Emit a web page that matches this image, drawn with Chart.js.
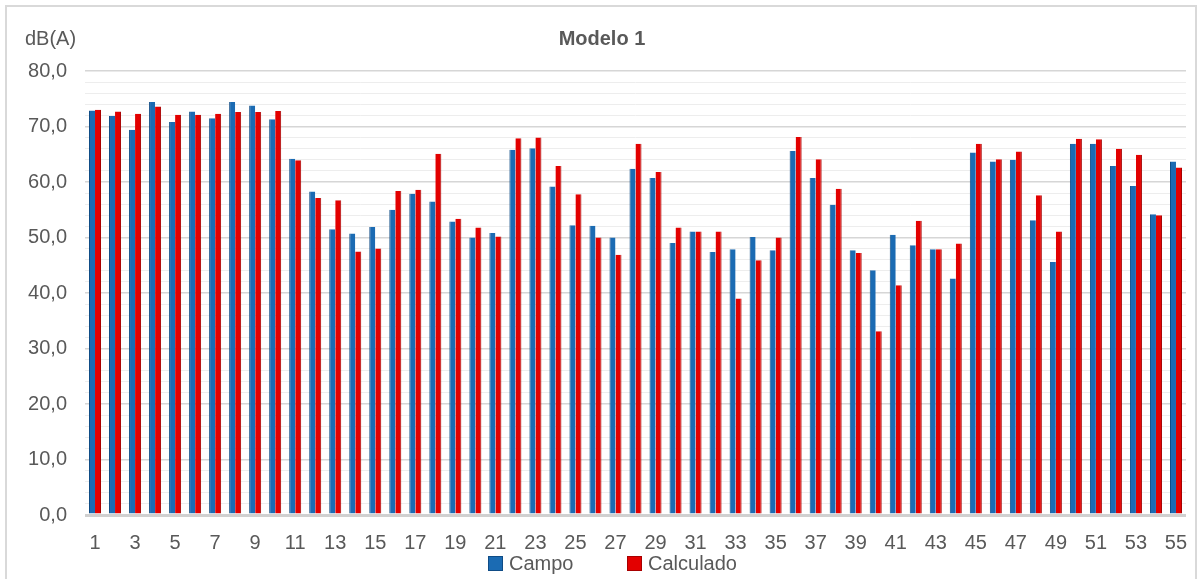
<!DOCTYPE html>
<html>
<head>
<meta charset="utf-8">
<script src="https://cdn.jsdelivr.net/npm/chart.js@4.4.1/dist/chart.umd.min.js"></script>
<style>
  html, body { margin: 0; padding: 0; background: #fff; }
  body { width: 1204px; height: 579px; position: relative; overflow: hidden;
         font-family: "Liberation Sans", Arial, sans-serif; color: #595959; }
  #frame { position: absolute; left: 5px; top: 5px; width: 1192px; height: 590px;
           border: 2px solid #d9d9d9; box-sizing: border-box; }
  #chartBox { position: absolute; left: 0; top: 0; width: 1204px; height: 579px; }
  #title { position: absolute; top: 27px; left: 0; width: 1204px; text-align: center;
           font-weight: bold; font-size: 20px; }
  #unit { position: absolute; left: 25px; top: 27px; font-size: 20px; }
  #legend { position: absolute; top: 552px; left: 0; width: 1204px; font-size: 20px; }
  .item { position: absolute; top: 0; line-height: 22px; }
  .swatch { display: inline-block; width: 13px; height: 13px; margin-right: 6px; vertical-align: -1px; }
</style>
</head>
<body>
<div id="frame"></div>
<div id="chartBox"><canvas id="modelChart"></canvas></div>
<div id="unit">dB(A)</div>
<div id="title">Modelo 1</div>
<div id="legend"></div>

<script>
// measuring points 1..55
let points = [];
for (let i = 1; i <= 55; i++) points.push(String(i));

// field measurements
let campo = [
  72.9, 71.9, 69.4, 74.4, 70.8, 72.7, 71.5, 74.4, 73.8, 71.3,
  64.2, 58.3, 51.5, 50.7, 51.9, 55.0, 57.9, 56.5, 52.9, 50.0,
  50.8, 65.8, 66.1, 59.2, 52.2, 52.1, 50.0, 62.4, 60.7, 49.0,
  51.1, 47.4, 47.9, 50.1, 47.7, 65.6, 60.7, 55.9, 47.7, 44.1,
  50.5, 48.6, 47.9, 42.6, 65.3, 63.7, 64.0, 53.1, 45.6, 66.9,
  66.9, 62.9, 59.3, 54.2, 63.7
];

// model results
let calculado = [
  73.0, 72.7, 72.3, 73.6, 72.1, 72.1, 72.3, 72.6, 72.6, 72.8,
  63.9, 57.1, 56.7, 47.5, 48.0, 58.4, 58.6, 65.1, 53.4, 51.8,
  50.2, 67.9, 68.0, 62.9, 57.8, 50.0, 46.9, 66.9, 61.8, 51.8,
  51.1, 51.1, 39.0, 45.9, 50.0, 68.1, 64.1, 58.8, 47.2, 33.1,
  41.4, 53.0, 47.9, 48.9, 66.9, 64.1, 65.5, 57.6, 51.1, 67.8,
  67.7, 66.0, 64.9, 54.0, 62.6
];

let seriesNames = ["Campo", "Calculado"];
let seriesColours = ["#1b6bb3", "#e30000"];
let seriesEdges = ["#0f4c86", "#a80000"];

let textColour = "#595959";

// simple legend under the axis
let legend = document.getElementById("legend");
let legendLeft = [488, 627];
seriesNames.forEach(function (name, i) {
  let item = document.createElement("div");
  item.className = "item";
  item.style.left = legendLeft[i] + "px";
  item.innerHTML = '<span class="swatch" style="background:' + seriesColours[i] +
    ';border:1px solid ' + seriesEdges[i] + '"></span>' + name;
  legend.appendChild(item);
});

let canvas = document.getElementById("modelChart");
let ctx = canvas.getContext("2d");

let modelChart = new Chart(ctx, {
  type: "bar",
  data: {
    labels: points,
    datasets: [
      {
        label: seriesNames[0],
        data: campo,
        backgroundColor: seriesColours[0],
        borderColor: seriesEdges[0],
        borderWidth: { left: 1, right: 0, top: 0, bottom: 0 },
        borderSkipped: false,
        categoryPercentage: 0.6,
        barPercentage: 1.0,
      },
      {
        label: seriesNames[1],
        data: calculado,
        backgroundColor: seriesColours[1],
        borderColor: seriesEdges[1],
        borderWidth: { left: 0, right: 1, top: 0, bottom: 0 },
        borderSkipped: false,
        categoryPercentage: 0.6,
        barPercentage: 1.0,
      },
    ],
  },
  options: {
    responsive: true,
    maintainAspectRatio: false,
    animation: false,
    layout: {
      padding: { top: 71, right: 18, bottom: 0, left: 0 },
    },
    plugins: {
      legend: { display: false },
      title: { display: false },
      tooltip: { enabled: false },
    },
    scales: {
      y: {
        min: 0,
        max: 80,
        ticks: {
          stepSize: 2,
          autoSkip: false,
          padding: 18,
          color: textColour,
          font: { family: "Liberation Sans", size: 20 },
          callback: function (value) {
            if (value % 10 !== 0) return "";
            return value.toFixed(1).replace(".", ",");
          },
        },
        grid: {
          drawTicks: false,
          color: function (c) {
            if (c.tick.value === 0) return "#d0d0d0";
            return c.tick.value % 10 === 0 ? "#d6d6d6" : "#ededed";
          },
          lineWidth: function (c) {
            if (c.tick.value === 0) return 3;
            return c.tick.value % 10 === 0 ? 1.5 : 1;
          },
        },
        border: { display: false },
        afterFit: function (scale) {
          scale.width = 85;
        },
      },
      x: {
        ticks: {
          autoSkip: false,
          maxRotation: 0,
          padding: 16,
          color: textColour,
          font: { family: "Liberation Sans", size: 20 },
          callback: function (value, index) {
            return index % 2 === 0 ? points[index] : "";
          },
        },
        grid: { display: false, drawTicks: false },
        border: { display: false },
        afterFit: function (scale) {
          scale.height = 64;
        },
      },
    },
  },
});
</script>
</body>
</html>
